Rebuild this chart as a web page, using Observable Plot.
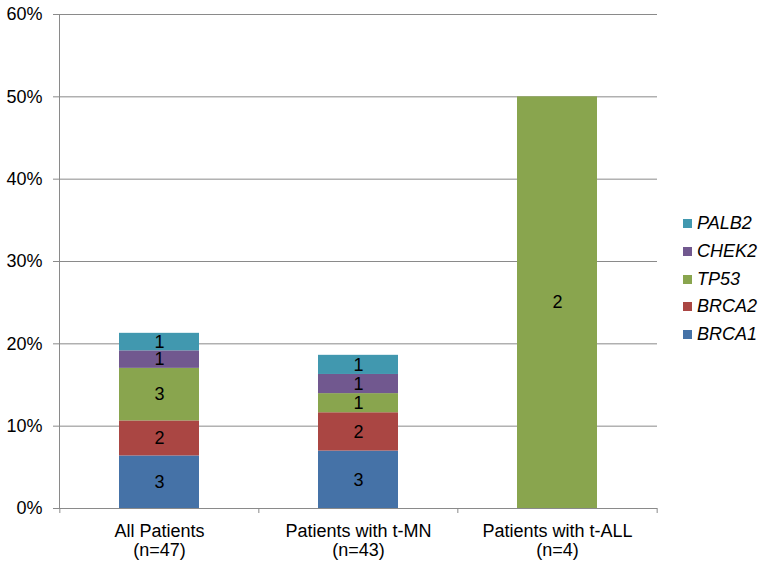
<!DOCTYPE html>
<html><head><meta charset="utf-8">
<script src="https://cdn.jsdelivr.net/npm/d3@7"></script>
<script src="https://cdn.jsdelivr.net/npm/@observablehq/plot@0.6"></script>
<style>
body{margin:0;background:#fff;font-family:"Liberation Sans",Arial,sans-serif;}
#wrap{position:relative;width:764px;height:568px;}
#legend{position:absolute;left:683px;top:210px;font-size:18px;font-style:italic;color:#000;}
#legend div{display:flex;align-items:center;height:27.7px;}
#legend span.sw{display:inline-block;width:9px;height:9px;margin-right:5px;}
</style></head>
<body><div id="wrap"><div id="legend"></div></div>
<script>
const categories = ["All Patients", "Patients with t-MN", "Patients with t-ALL"];
const nPatients = [47, 43, 4];
const genes = ["BRCA1", "BRCA2", "TP53", "CHEK2", "PALB2"];
const colors = ["#4572A7", "#AA4643", "#89A54E", "#71588F", "#4198AF"];
const counts = {
  BRCA1: [3, 3, 0],
  BRCA2: [2, 2, 0],
  TP53:  [3, 1, 2],
  CHEK2: [1, 1, 0],
  PALB2: [1, 1, 0]
};
const yTicks = [0, 0.1, 0.2, 0.3, 0.4, 0.5, 0.6];

const rows = [];
categories.forEach((c, i) => {
  genes.forEach(g => {
    const k = counts[g][i];
    if (k > 0) rows.push({cat: c, gene: g, count: k, pct: k / nPatients[i]});
  });
});
const labelOf = Object.fromEntries(categories.map((c, i) => [c, `${c}\n(n=${nPatients[i]})`]));

const W = 764, ML = 59, MR = 107;
const halfStep = (W - ML - MR) / categories.length / 2;

const chart = Plot.plot({
  width: W, height: 568,
  marginLeft: ML, marginRight: MR, marginTop: 14, marginBottom: 60,
  style: {fontFamily: "'Liberation Sans', Arial, sans-serif", fontSize: "18px", color: "#000", background: "#fff"},
  x: {domain: categories, paddingInner: 0.6, paddingOuter: 0.3, label: null},
  y: {domain: [0, 0.6], label: null},
  color: {domain: genes, range: colors},
  marks: [
    Plot.gridY(yTicks, {stroke: "#8a8a8a", strokeOpacity: 1, strokeWidth: 1}),
    Plot.axisY({ticks: yTicks, tickFormat: d3.format(".0%"), tickSize: 6, tickPadding: 11, stroke: "#8a8a8a", strokeOpacity: 1, fontSize: 18, fill: "#000", label: null}),
    Plot.barY(rows, Plot.stackY({x: "cat", y: "pct", fill: "gene", order: genes})),
    Plot.text(rows, Plot.stackY({x: "cat", y: "pct", z: "gene", order: genes, text: "count", fontSize: 18, fill: "#000"})),
    Plot.ruleX(categories, {x: d => d, y1: 0, y2: 0, dx: -halfStep, insetBottom: -5, stroke: "#8a8a8a"}),
    Plot.ruleX(categories.slice(-1), {x: d => d, y1: 0, y2: 0, dx: halfStep, insetBottom: -5, stroke: "#8a8a8a"}),
    Plot.axisX({tickSize: 0, tickPadding: 15, tickFormat: d => labelOf[d], lineHeight: 1.05, fontSize: 18, fill: "#000", label: null}),
    Plot.frame({anchor: "left", stroke: "#8a8a8a"})
  ]
});
document.getElementById("wrap").prepend(chart);
chart.style.position = "absolute"; chart.style.left = "0"; chart.style.top = "0";

const legend = document.getElementById("legend");
genes.slice().reverse().forEach(g => {
  const d = document.createElement("div");
  d.innerHTML = `<span class="sw" style="background:${colors[genes.indexOf(g)]}"></span>${g}`;
  legend.appendChild(d);
});
</script></body></html>
